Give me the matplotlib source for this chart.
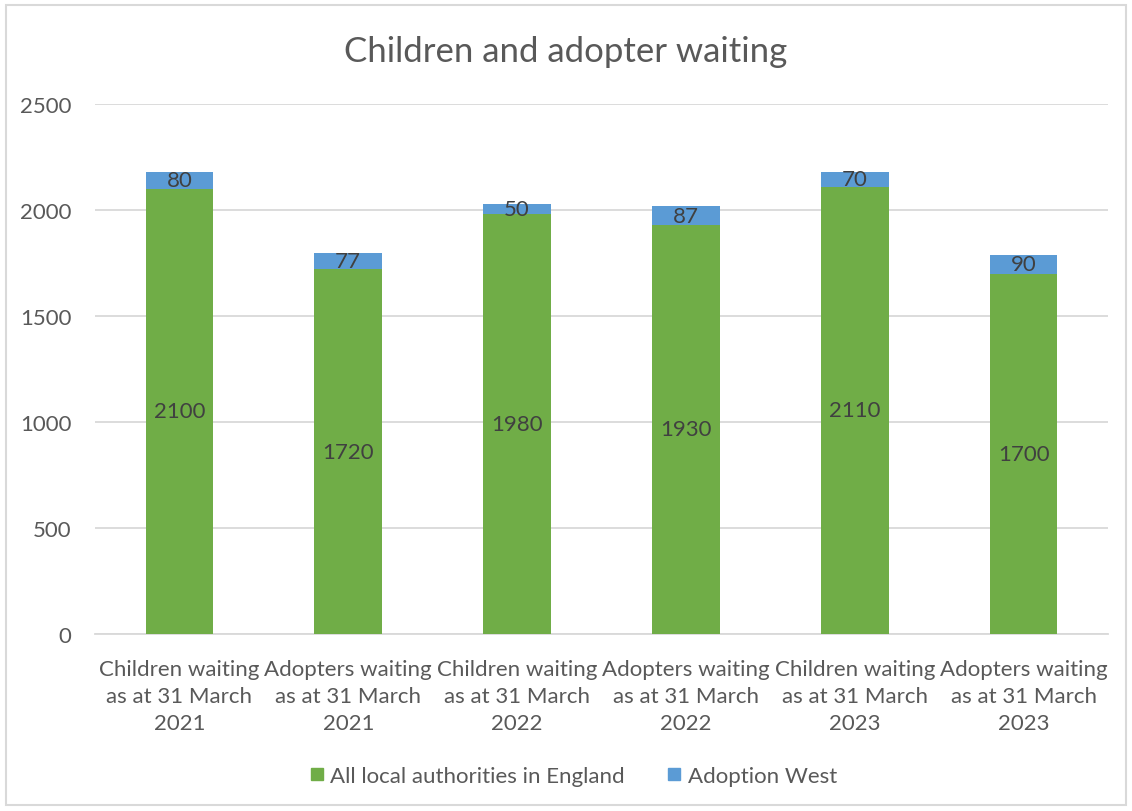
import matplotlib
matplotlib.use("Agg")
import matplotlib.pyplot as plt
from matplotlib.patches import Rectangle
from matplotlib.lines import Line2D

categories = [
    "Children waiting\nas at 31 March\n2021",
    "Adopters waiting\nas at 31 March\n2021",
    "Children waiting\nas at 31 March\n2022",
    "Adopters waiting\nas at 31 March\n2022",
    "Children waiting\nas at 31 March\n2023",
    "Adopters waiting\nas at 31 March\n2023",
]
england = [2100, 1720, 1980, 1930, 2110, 1700]
adoption_west = [80, 77, 50, 87, 70, 90]
yticks = [0, 500, 1000, 1500, 2000, 2500]

GREEN = "#70AD47"
BLUE = "#5B9BD5"
TXT = "#595959"
LBL = "#404040"
plt.rcParams['font.family'] = ['Lato', 'DejaVu Sans']

fig = plt.figure(figsize=(11.32, 8.12), dpi=100)
ax = fig.add_axes([95/1132, 1-635/812, (1108-95)/1132, (635-105)/812])

x = list(range(len(categories)))
b1 = ax.bar(x, england, width=0.40, color=GREEN, zorder=3)
b2 = ax.bar(x, adoption_west, width=0.40, bottom=england, color=BLUE, zorder=3)
ax.bar_label(b1, labels=[str(v) for v in england], label_type='center', fontsize=16, color=LBL)
ax.bar_label(b2, labels=[str(v) for v in adoption_west], label_type='center', fontsize=16, color=LBL)

ax.set_xlim(-0.5, 5.5)
ax.set_ylim(0, 2500)
ax.set_yticks(yticks)
ax.set_yticklabels([str(t) for t in yticks], fontsize=16, color=TXT)
ax.set_xticks(x)
ax.set_xticklabels(categories, fontsize=16, color=TXT, linespacing=1.45)
ax.tick_params(axis='both', length=0)
ax.tick_params(axis='y', pad=17)
ax.tick_params(axis='x', pad=18)
ax.grid(axis='y', color='#D9D9D9', linewidth=1.3, zorder=0)
for s in ['top', 'right', 'left']:
    ax.spines[s].set_visible(False)
ax.spines['bottom'].set_color('#D9D9D9')
ax.spines['bottom'].set_linewidth(1.3)

fig.text(0.5, 1-52/812, "Children and adopter waiting", ha='center', va='center',
         fontsize=25, color=TXT)

handles = [Line2D([], [], marker='s', linestyle='none', markersize=8, color=GREEN),
           Line2D([], [], marker='s', linestyle='none', markersize=8, color=BLUE)]
fig.legend(handles, ["All local authorities in England", "Adoption West"],
           loc='center', bbox_to_anchor=(0.5 + 8/1132, 1-777/812), ncol=2, frameon=False,
           fontsize=16, labelcolor=TXT, handlelength=0.5, handletextpad=0.35,
           columnspacing=2.0)

fig.patches.append(Rectangle((6/1132, 6/812), 1120/1132, 800/812, transform=fig.transFigure,
                             fill=False, edgecolor='#D9D9D9', linewidth=1.5))

fig.savefig("out.png", dpi=100)
